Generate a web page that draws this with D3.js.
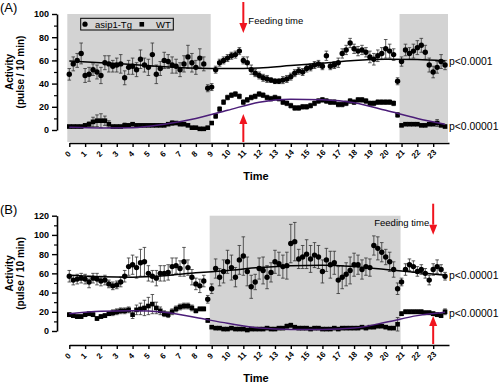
<!DOCTYPE html>
<html>
<head>
<meta charset="utf-8">
<script src="https://cdn.jsdelivr.net/npm/d3@7/dist/d3.min.js"></script>
<style>
  body { margin: 0; background: #fff; }
  svg { font-family: Arial, "Liberation Sans", sans-serif; }
</style>
</head>
<body>
<svg id="chart" width="500" height="384"></svg>
<script>
// sampling every 15 min over 24 h
const sampleTimes = d3.range(0, 24, 0.25);
const hourTicks = d3.range(0, 24);

// ---- Panel A ----
const tgA = [
  48,57,60,66, 47,48,52,50, 47,58,57,55, 56,57,45,54, 55,52,61,56, 54,65,48,53,
  60,59,56,55, 52,57,63,58, 54,62,57,36, 37,52,58,60, 62,64,65,68, 60,58,52,49,
  47,45,44,43, 42,42,43,44, 46,49,51,50, 53,54,56,57, 55,64,55,56, 58,66,69,75,
  70,68,69,67, 63,61,64,66, 70,68,65,42, 59,69,66,68, 71,73,67,56, 50,54,59,56
];
const tgAErr = [
  5,6,6,9, 6,6,5,6, 7,6,7,5, 6,8,6,6, 7,6,8,6, 7,10,8,6,
  7,6,7,6, 6,7,10,8, 6,8,6,3, 3,3,3,3, 3,3,3,3, 3,5,4,3,
  3,3,3,2, 2,2,3,3, 3,3,3,3, 3,3,3,3, 3,4,3,3, 4,4,4,4,
  4,4,4,4, 5,5,5,5, 8,6,5,3, 4,5,5,6, 6,6,6,6, 5,5,6,4
];
const wtA = [
  3,3,3,3, 4,5,7,8, 8,8,5,3, 3,3,4,4, 5,4,4,4, 4,4,4,4,
  4,5,6,6, 5,5,4,2, 2,1,1,2, 6,12,18,24, 28,30,31,29, 24,26,28,29,
  31,30,28,27, 28,27,24,23, 21,19,19,20, 20,21,23,25, 26,25,24,24, 22,22,23,25,
  24,26,26,25, 23,23,24,24, 24,24,23,13, 4,5,5,5, 5,4,4,5, 5,6,4,3
];
const wtAErr = [
  1,1,1,1, 1,2,4,5, 6,4,3,1, 1,1,2,1, 1,1,1,1, 1,1,1,1,
  1,1,2,1, 1,1,1,1, 1,1,1,1, 1,2,2,2, 2,2,2,2, 2,2,2,2,
  2,2,2,2, 2,2,2,2, 2,2,2,2, 2,2,2,2, 2,2,2,2, 2,2,2,2,
  2,2,2,2, 2,2,2,2, 2,2,2,2, 1,1,1,1, 1,1,1,1, 1,3,1,1
];
const fitHours = [0, 2, 4, 6, 8, 10, 12, 14, 16, 18, 20, 22, 24];
const tgAFit = [59.5, 58, 56.5, 54.5, 53.3, 53, 53.5, 55.5, 57.5, 60, 61, 60.7, 59.5];
const wtAFit = [2.3, 1.8, 2, 5, 10, 17, 24, 26.5, 26, 23.5, 17, 10, 5];

// ---- Panel B ----
const tgB = [
  57,53,54,55, 54,51,55,54, 52,53,49,47, 48,51,57,67, 69,66,71,72, 60,57,55,60,
  60,61,67,68, 65,72,66,56, 49,47,52,33, 44,65,56,62, 72,66,56,74, 78,62,46,51,
  65,63,56,61, 72,70,67,68, 91,93,75,77, 80,75,79,77, 62,74,69,71, 53,56,59,63,
  69,69,64,67, 66,89,86,82, 77,72,64,44, 51,64,69,67, 62,64,60,53, 64,67,64,57
];
const tgBErr = [
  6,5,5,5, 5,6,5,6, 5,5,4,4, 4,5,6,9, 10,11,14,15, 8,6,8,8,
  8,8,9,8, 8,15,8,8, 6,7,6,4, 5,10,9,12, 12,13,10,15, 20,15,12,8,
  11,14,12,10, 12,12,12,14, 20,20,10,12, 15,14,13,12, 12,12,14,12, 14,12,12,14,
  12,10,10,9, 9,10,12,10, 8,10,8,6, 4,6,6,6, 5,5,5,5, 6,7,5,4
];
const wtB = [
  17,16,15,15, 17,18,17,13, 15,16,18,19, 20,21,21,22, 17,22,23,24, 26,28,24,21,
  18,17,20,23, 25,26,26,24, 21,23,23,11, 4,3,3,2, 2,3,2,2, 2,1,2,2,
  2,2,3,2, 2,3,3,5, 6,4,3,3, 3,2,3,3, 2,2,2,3, 2,3,3,3,
  3,3,4,3, 4,4,5,5, 4,3,3,7, 18,20,20,20, 20,20,19,19, 18,17,16,20
];
const wtBErr = [
  2,2,2,2, 2,2,2,2, 2,2,2,3, 3,3,3,3, 4,5,6,8, 9,10,6,4,
  3,3,3,3, 3,3,3,3, 2,2,2,2, 1,1,1,1, 1,1,1,1, 1,1,1,1,
  1,1,1,1, 1,1,1,2, 2,1,1,1, 1,1,1,1, 1,1,1,1, 1,1,1,1,
  1,1,1,1, 1,1,1,1, 1,1,1,7, 2,2,2,2, 2,2,2,2, 2,2,2,3
];
const tgBFit = [58, 56.5, 56, 57.5, 60.5, 63, 66, 68, 68.5, 67, 64, 61, 58];
const wtBFit = [18, 20.5, 21, 19.5, 14, 8, 3, 1.5, 1.5, 3, 9, 16, 19.5];

const svg = d3.select("#chart");
const red = "#f0141e";
const grey = "#d3d3d3";
const purple = "#4b1d78";

function drawPanel(p) {
  const x = d3.scaleLinear().domain([0, 24]).range([69.3, 449]);
  const y = d3.scaleLinear().domain([0, p.yMax]).range([p.yBottom, p.yTop]);
  const g = svg.append("g");

  // dark phases
  g.selectAll("rect.dark").data(p.dark).enter().append("rect")
    .attr("x", d => x(d[0]) - 2)
    .attr("y", y(p.yMax))
    .attr("width", d => x(d[1]) - x(d[0]) + 1)
    .attr("height", p.axisY - 1 - y(p.yMax))
    .attr("fill", grey);

  // y axis
  const yAxis = g.append("g").attr("transform", `translate(57,0)`)
    .call(d3.axisLeft(y).tickValues(d3.range(0, p.yMax + 1, 20)).tickSize(5).tickSizeOuter(0));
  yAxis.select(".domain").attr("stroke-width", 1.6);
  yAxis.selectAll(".tick line").attr("stroke-width", 1.4);
  yAxis.selectAll("text").attr("font-size", 9).attr("font-weight", "bold")
    .attr("font-family", "Arial, Liberation Sans, sans-serif");
  g.append("g").attr("transform", `translate(57,0)`)
    .call(d3.axisLeft(y).tickValues(d3.range(10, p.yMax, 20)).tickSize(3).tickFormat(""))
    .call(a => a.select(".domain").remove())
    .selectAll("line").attr("stroke-width", 1.2);

  // x axis
  const xAxis = g.append("g").attr("transform", `translate(0,${p.axisY})`)
    .call(d3.axisBottom(x).tickValues(hourTicks).tickSize(4).tickSizeOuter(0));
  xAxis.select(".domain").attr("stroke-width", 1.6);
  xAxis.selectAll(".tick line").attr("stroke-width", 1.4);
  xAxis.selectAll("text")
    .attr("font-size", 8).attr("font-weight", "bold")
    .attr("font-family", "Arial, Liberation Sans, sans-serif")
    .attr("y", 0).attr("dy", 0)
    .attr("text-anchor", "middle")
    .attr("transform", "translate(0,13) rotate(-45)");

  g.append("text").attr("x", 256).attr("y", p.axisY + 37)
    .attr("text-anchor", "middle").attr("font-size", 11).attr("font-weight", "bold")
    .text("Time");

  // y title
  const yMid = (p.yTop + p.yBottom) / 2;
  g.append("text").attr("transform", `translate(13,${yMid}) rotate(-90)`)
    .attr("text-anchor", "middle").attr("font-size", 10).attr("font-weight", "bold")
    .text("Activity");
  g.append("text").attr("transform", `translate(24,${yMid}) rotate(-90)`)
    .attr("text-anchor", "middle").attr("font-size", 10).attr("font-weight", "bold")
    .text("(pulse / 10 min)");

  g.append("text").attr("x", 0).attr("y", p.yTop - 2).attr("font-size", 13)
    .text(p.label);

  // series
  p.series.forEach(s => {
    const pts = sampleTimes.map((t, i) => ({ t, v: s.values[i], e: s.errors[i] }));
    const eb = g.append("g").attr("stroke", "#333").attr("stroke-width", 0.8).attr("fill", "none");
    eb.selectAll("line.v").data(pts).enter().append("line")
      .attr("x1", d => x(d.t)).attr("x2", d => x(d.t))
      .attr("y1", d => y(d.v - d.e)).attr("y2", d => y(d.v + d.e));
    eb.selectAll("line.t").data(pts).enter().append("line")
      .attr("x1", d => x(d.t) - 1.8).attr("x2", d => x(d.t) + 1.8)
      .attr("y1", d => y(d.v + d.e)).attr("y2", d => y(d.v + d.e));
    eb.selectAll("line.b").data(pts).enter().append("line")
      .attr("x1", d => x(d.t) - 1.8).attr("x2", d => x(d.t) + 1.8)
      .attr("y1", d => y(d.v - d.e)).attr("y2", d => y(d.v - d.e));

    if (s.shape === "circle") {
      g.selectAll(null).data(pts).enter().append("circle")
        .attr("cx", d => x(d.t)).attr("cy", d => y(d.v)).attr("r", 2.7).attr("fill", "#000");
    } else {
      g.selectAll(null).data(pts).enter().append("rect")
        .attr("x", d => x(d.t) - 2.3).attr("y", d => y(d.v) - 2.3)
        .attr("width", 4.6).attr("height", 4.6).attr("fill", "#000");
    }
  });

  // cosinor fit lines
  const line = d3.line().x(d => x(d[0])).y(d => y(d[1])).curve(d3.curveMonotoneX);
  p.fits.forEach(f => {
    const fitPts = fitHours.map((h, i) => [Math.min(h, 23.75), f.values[i]]);
    g.append("path").attr("d", line(fitPts)).attr("fill", "none")
      .attr("stroke", f.color).attr("stroke-width", 1.5);
  });

  // p-values
  p.pvals.forEach(pv => {
    g.append("text").attr("x", 449).attr("y", y(pv.at)).attr("dy", "0.35em")
      .attr("font-size", 10.4).text(pv.text);
  });

  // feeding arrows
  const fx = x(p.feed);
  function arrow(yTail, yTip) {
    const dir = yTip > yTail ? 1 : -1;
    const hl = 10, hw = 4;
    g.append("line").attr("x1", fx).attr("x2", fx)
      .attr("y1", yTail).attr("y2", yTip - dir * hl)
      .attr("stroke", red).attr("stroke-width", 2);
    g.append("path")
      .attr("d", `M${fx - hw},${yTip - dir * hl}L${fx + hw},${yTip - dir * hl}L${fx},${yTip}Z`)
      .attr("fill", red);
  }
  arrow(p.yTop - 12, p.yTop + 19);
  arrow(p.axisY - 1, p.axisY - 29);
  g.append("text")
    .attr("x", p.feedTextAnchor === "end" ? fx - 4 : fx + 5)
    .attr("y", p.yTop + 10)
    .attr("text-anchor", p.feedTextAnchor)
    .attr("font-size", 9.5)
    .text("Feeding time");

  return { x, y, g };
}

drawPanel({
  label: "(A)", yMax: 100, yTop: 14, yBottom: 130, axisY: 143,
  dark: [[0, 9], [21, 24]], feed: 11, feedTextAnchor: "start",
  series: [
    { values: tgA, errors: tgAErr, shape: "circle" },
    { values: wtA, errors: wtAErr, shape: "square" }
  ],
  fits: [{ values: tgAFit, color: "#000" }, { values: wtAFit, color: purple }],
  pvals: [{ at: 59, text: "p<0.0001" }, { at: 3, text: "p<0.00001" }]
});

drawPanel({
  label: "(B)", yMax: 120, yTop: 215.7, yBottom: 331, axisY: 345,
  dark: [[9, 21]], feed: 23, feedTextAnchor: "end",
  series: [
    { values: tgB, errors: tgBErr, shape: "circle" },
    { values: wtB, errors: wtBErr, shape: "square" }
  ],
  fits: [{ values: tgBFit, color: "#000" }, { values: wtBFit, color: purple }],
  pvals: [{ at: 58, text: "p<0.00001" }, { at: 18.5, text: "p<0.00001" }]
});

// legend (panel A)
const lg = svg.append("g");
lg.append("rect").attr("x", 80.7).attr("y", 18.3).attr("width", 92.6).attr("height", 11.7)
  .attr("fill", "none").attr("stroke", "#000").attr("stroke-width", 1);
lg.append("circle").attr("cx", 85).attr("cy", 24.2).attr("r", 2.6).attr("fill", "#000");
lg.append("text").attr("x", 95).attr("y", 27.6).attr("font-size", 9.5).text("asip1-Tg");
lg.append("rect").attr("x", 139.5).attr("y", 22).attr("width", 4.6).attr("height", 4.6).attr("fill", "#000");
lg.append("text").attr("x", 156).attr("y", 27.6).attr("font-size", 9.5).text("WT");
</script>
</body>
</html>
